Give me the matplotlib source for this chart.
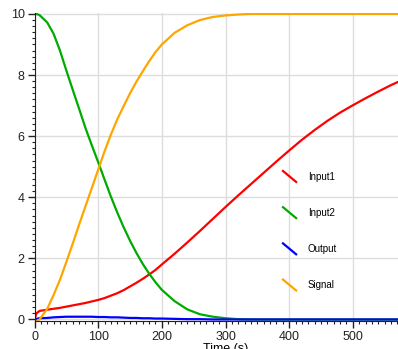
import numpy as np
import matplotlib
matplotlib.use("Agg")
import matplotlib.pyplot as plt
from matplotlib.legend_handler import HandlerBase
from matplotlib.lines import Line2D
from matplotlib.ticker import MultipleLocator

plt.rcParams['font.family'] = ['Liberation Sans', 'DejaVu Sans']

# Données
t = [0, 3, 8, 20, 30, 40, 50, 60, 70, 80, 90, 100, 110, 120, 130, 140, 150,
     160, 170, 180, 190, 200, 220, 240, 260, 280, 300, 320, 340, 360, 380,
     400, 420, 440, 460, 480, 500, 520, 540, 560, 580]

input1 = [0.0, 0.2, 0.28, 0.32, 0.35, 0.38, 0.42, 0.46, 0.5, 0.54, 0.59,
          0.64, 0.7, 0.78, 0.86, 0.96, 1.08, 1.2, 1.33, 1.47, 1.62, 1.8,
          2.15, 2.52, 2.9, 3.29, 3.68, 4.06, 4.43, 4.8, 5.17, 5.53, 5.88,
          6.2, 6.5, 6.77, 7.01, 7.24, 7.46, 7.67, 7.86]

input2 = [10.0, 10.0, 9.96, 9.72, 9.35, 8.8, 8.15, 7.52, 6.9, 6.27, 5.7,
          5.15, 4.58, 4.02, 3.5, 3.02, 2.58, 2.18, 1.82, 1.5, 1.22, 0.97,
          0.6, 0.33, 0.17, 0.09, 0.04, 0.01, 0.0, 0.0, 0.0, 0.0, 0.0, 0.0,
          0.0, 0.0, 0.0, 0.0, 0.0, 0.0, 0.0]

output = [0.0, 0.02, 0.04, 0.05, 0.07, 0.08, 0.09, 0.09, 0.09, 0.09, 0.09,
          0.08, 0.08, 0.07, 0.07, 0.06, 0.05, 0.05, 0.04, 0.04, 0.03, 0.03,
          0.02, 0.01, 0.01, 0.0, 0.0, 0.0, 0.0, 0.0, 0.0, 0.0, 0.0, 0.0,
          0.0, 0.0, 0.0, 0.0, 0.0, 0.0, 0.0]

signal = [-0.1, -0.05, 0.0, 0.35, 0.8, 1.3, 1.88, 2.48, 3.1, 3.7, 4.3,
          4.9, 5.5, 6.05, 6.55, 6.98, 7.4, 7.78, 8.12, 8.45, 8.75, 9.0,
          9.38, 9.63, 9.8, 9.9, 9.95, 9.98, 10.0, 10.0, 10.0, 10.0, 10.0,
          10.0, 10.0, 10.0, 10.0, 10.0, 10.0, 10.0, 10.0]

names = ["Input1", "Input2", "Output", "Signal"]
colors = ["#ff0000", "#00aa00", "#0000ff", "#ffa500"]


class DiagHandler(HandlerBase):
    # trait en diagonale "\" comme dans la légende d'origine
    def create_artists(self, legend, orig_handle, xdescent, ydescent,
                       width, height, fontsize, trans):
        line = Line2D([-xdescent, -xdescent + width],
                      [-ydescent + height, -ydescent],
                      color=orig_handle.get_color(), lw=1.6,
                      transform=trans)
        return [line]


fig = plt.figure(figsize=(3.98, 3.49), dpi=100)
ax = fig.add_axes([34.5 / 398, 28 / 349, 382 / 398, 308 / 349])

lines = []
for y, c, n in zip([input1, input2, output, signal], colors, names):
    ln, = ax.plot(t, y, color=c, lw=1.6, label=n)
    lines.append(ln)

ax.set_xlim(0, 600)
ax.set_ylim(-0.05, 10.03)
ax.xaxis.set_major_locator(MultipleLocator(100))
ax.xaxis.set_minor_locator(MultipleLocator(10))
ax.yaxis.set_major_locator(MultipleLocator(2))
ax.yaxis.set_minor_locator(MultipleLocator(0.2))
ax.grid(True, which='major', color='#dddddd', lw=1)
ax.set_axisbelow(True)

for s in ['top', 'right']:
    ax.spines[s].set_visible(False)
ax.spines['left'].set_color('#222222')
ax.spines['bottom'].set_color('#222222')
ax.tick_params(which='major', length=5, width=1, labelsize=9, colors='#222222', pad=2)
ax.tick_params(which='minor', length=2.5, width=0.8, colors='#222222')
ax.set_xlabel("Time (s)", fontsize=9, labelpad=0)

ax.legend(lines, names, handler_map={Line2D: DiagHandler()},
          loc='upper left', bbox_to_anchor=(283 / 398, 1 - 171 / 349),
          bbox_transform=fig.transFigure, frameon=False, fontsize=7,
          handlelength=1.35, handleheight=1.35, handletextpad=1.2,
          labelspacing=2.6, borderpad=0, borderaxespad=0)

fig.savefig("out.png", dpi=100)
